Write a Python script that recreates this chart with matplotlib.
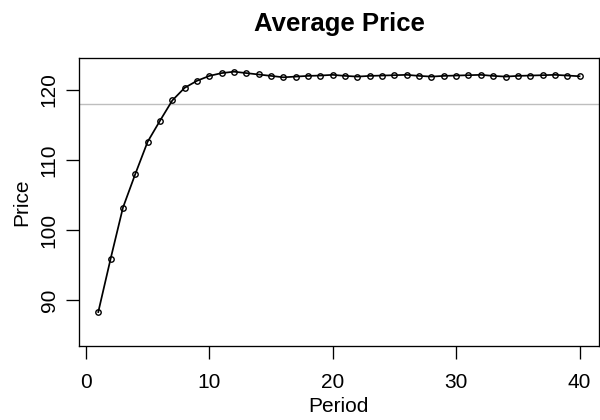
import matplotlib
matplotlib.use("Agg")
import matplotlib.pyplot as plt

# average price per period
periods = list(range(1, 41))
avg_price = [
    88.3, 95.9, 103.2, 108.0, 112.6, 115.6, 118.5, 120.3, 121.3, 122.0,
    122.4, 122.6, 122.4, 122.2, 122.0, 121.8, 121.9, 122.0, 122.05, 122.15,
    122.0, 121.9, 122.0, 122.05, 122.1, 122.15, 122.0, 121.9, 122.0, 122.05,
    122.1, 122.15, 122.0, 121.9, 122.0, 122.05, 122.1, 122.15, 122.05, 121.95,
]
ref_price = 118.0
x_ticks = [0, 10, 20, 30, 40]
y_ticks = [90, 100, 110, 120]

plt.rcParams["font.family"] = ["Liberation Sans", "DejaVu Sans"]

fig = plt.figure(figsize=(6, 4.2), dpi=100)
ax = fig.add_axes([0.1317, 0.177, 0.8663, 0.684])

ax.axhline(ref_price, color="#bebebe", lw=1.0, zorder=1)
ax.plot(periods, avg_price, color="black", lw=1.25, zorder=2)
ax.plot(periods, avg_price, "o", ms=3.9, mfc="none", mec="black", mew=1.0, zorder=3)

ax.set_xlim(-0.56, 41.56)
ax.set_ylim(83.5, 124.5)
ax.set_xticks(x_ticks)
ax.set_yticks(y_ticks)
ax.tick_params(direction="out", length=9.4, width=0.95, labelsize=15)
ax.tick_params(axis="x", pad=10)
ax.tick_params(axis="y", pad=5.3)
for lbl in ax.get_yticklabels():
    lbl.set_rotation(90)
    lbl.set_va("center")
for s in ax.spines.values():
    s.set_linewidth(0.95)

ax.set_xlabel("Period", fontsize=15)
ax.set_ylabel("Price", fontsize=15)
ax.xaxis.set_label_coords(0.5, -0.1775)
ax.yaxis.set_label_coords(-0.0924, 0.5)
fig.suptitle("Average Price", fontsize=18.5, fontweight="bold", x=0.565, y=0.971)

fig.savefig("out.png", dpi=100)
